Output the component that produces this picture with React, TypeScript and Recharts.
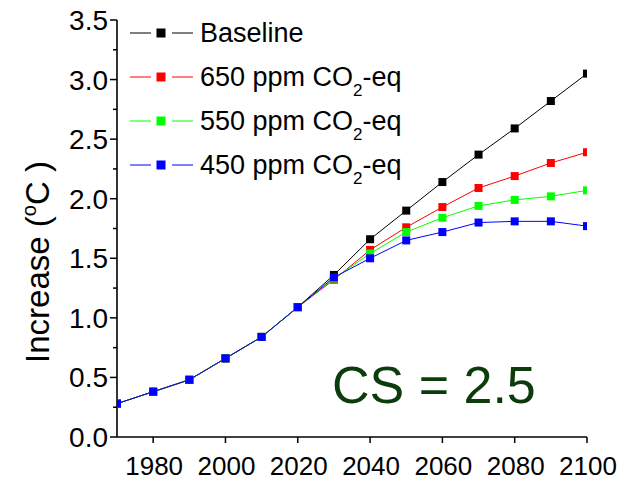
import React from "react";
import { Customized, Legend, Line, LineChart, XAxis, YAxis } from "recharts";

const years = [1970, 1980, 1990, 2000, 2010, 2020, 2030, 2040, 2050, 2060, 2070, 2080, 2090, 2100];
const baseline = [0.28, 0.38, 0.48, 0.66, 0.84, 1.09, 1.36, 1.66, 1.9, 2.14, 2.37, 2.59, 2.82, 3.05];
const ppm650 = [0.28, 0.38, 0.48, 0.66, 0.84, 1.09, 1.32, 1.57, 1.76, 1.93, 2.09, 2.19, 2.3, 2.39];
const ppm550 = [0.28, 0.38, 0.48, 0.66, 0.84, 1.09, 1.33, 1.54, 1.72, 1.84, 1.94, 1.99, 2.02, 2.07];
const ppm450 = [0.28, 0.38, 0.48, 0.66, 0.84, 1.09, 1.34, 1.5, 1.65, 1.72, 1.8, 1.81, 1.81, 1.77];

const xTicks = [1970, 1980, 1990, 2000, 2010, 2020, 2030, 2040, 2050, 2060, 2070, 2080, 2090, 2100];
const yTicks = [0, 0.25, 0.5, 0.75, 1, 1.25, 1.5, 1.75, 2, 2.25, 2.5, 2.75, 3, 3.25, 3.5];

const FONT = '"Liberation Sans", Arial, sans-serif';

const data = years.map((year, i) => ({
  year,
  baseline: baseline[i],
  ppm650: ppm650[i],
  ppm550: ppm550[i],
  ppm450: ppm450[i],
}));

const co2 = (ppm: string) => (
  <>
    {ppm} ppm CO
    <sub style={{ fontSize: 17, verticalAlign: "-10px", lineHeight: 0 }}>2</sub>
    -eq
  </>
);

const series = [
  { key: "baseline", color: "#000000", label: <>Baseline</> },
  { key: "ppm650", color: "#ff0000", label: co2("650") },
  { key: "ppm550", color: "#00ff00", label: co2("550") },
  { key: "ppm450", color: "#0000ff", label: co2("450") },
];

function XTick({ x, y, payload }: any) {
  const v = payload.value;
  const labelled = v >= 1980 && (v - 1980) % 20 === 0;
  return (
    <g>
      <line x1={x} x2={x} y1={y} y2={y + 6} stroke="#000" strokeWidth={1.5} />
      {labelled && (
        <text x={x + 1} y={y + 38} textAnchor="middle" fontSize={26} fontFamily={FONT} fill="#000">
          {v}
        </text>
      )}
    </g>
  );
}

function YTick({ x, y, payload }: any) {
  const v = payload.value;
  const major = Math.abs(v * 2 - Math.round(v * 2)) < 1e-6;
  return (
    <g>
      <line x1={x - (major ? 7 : 4)} x2={x} y1={y} y2={y} stroke="#000" strokeWidth={1.5} />
      {major && (
        <text x={x - 9} y={y + 10} textAnchor="end" fontSize={28} fontFamily={FONT} fill="#000">
          {v.toFixed(1)}
        </text>
      )}
    </g>
  );
}

function squareDot(color: string) {
  return (props: any) => {
    const { cx, cy, index } = props;
    return <rect key={index} x={cx - 4} y={cy - 4} width={8} height={8} fill={color} />;
  };
}

function LegendBox() {
  return (
    <div style={{ fontFamily: FONT, fontSize: 27, color: "#000" }}>
      {series.map((s) => (
        <div key={s.key} style={{ display: "flex", alignItems: "center", height: 44 }}>
          <svg width={63} height={14}>
            <line x1={0} x2={21} y1={7} y2={7} stroke={s.color} strokeWidth={1} />
            <rect x={26.5} y={2.5} width={9} height={9} fill={s.color} />
            <line x1={42} x2={63} y1={7} y2={7} stroke={s.color} strokeWidth={1} />
          </svg>
          <span style={{ marginLeft: 7, lineHeight: "44px", whiteSpace: "nowrap" }}>{s.label}</span>
        </div>
      ))}
    </div>
  );
}

// axis title with the raised "o" and the climate sensitivity note
function Annotations() {
  return (
    <g fontFamily={FONT}>
      <text transform="translate(49,262) rotate(-90)" textAnchor="middle" fontSize={33} fill="#000">
        Increase (
        <tspan fontSize={20} dy={-13}>
          o
        </tspan>
        <tspan dy={13}>C )</tspan>
      </text>
      <text x={332} y={403} fontSize={52} fill="#0c3b0c">
        CS = 2.5
      </text>
    </g>
  );
}

export default function App() {
  return (
    <div style={{ position: "absolute", left: 0, top: 0, background: "#fff" }}>
      <LineChart width={625} height={481} data={data} margin={{ top: 20, right: 38, bottom: 0, left: 0 }}>
        <XAxis
          dataKey="year"
          type="number"
          domain={[1970, 2100]}
          ticks={xTicks}
          allowDataOverflow
          height={44}
          tickSize={0}
          tickMargin={0}
          tickLine={false}
          tick={<XTick />}
          axisLine={{ stroke: "#000", strokeWidth: 1.6 }}
        />
        <YAxis
          type="number"
          domain={[0, 3.5]}
          ticks={yTicks}
          allowDataOverflow
          width={117}
          tickSize={0}
          tickMargin={0}
          tickLine={false}
          tick={<YTick />}
          axisLine={{ stroke: "#000", strokeWidth: 1.6 }}
        />
        <Legend
          layout="vertical"
          align="center"
          verticalAlign="middle"
          wrapperStyle={{ top: 11, left: 130, width: "auto", height: "auto" }}
          content={() => <LegendBox />}
        />
        {series.map((s) => (
          <Line
            key={s.key}
            dataKey={s.key}
            type="linear"
            stroke={s.color}
            strokeWidth={1}
            dot={squareDot(s.color)}
            activeDot={false}
            isAnimationActive={false}
          />
        ))}
        <Customized component={Annotations} />
      </LineChart>
    </div>
  );
}
